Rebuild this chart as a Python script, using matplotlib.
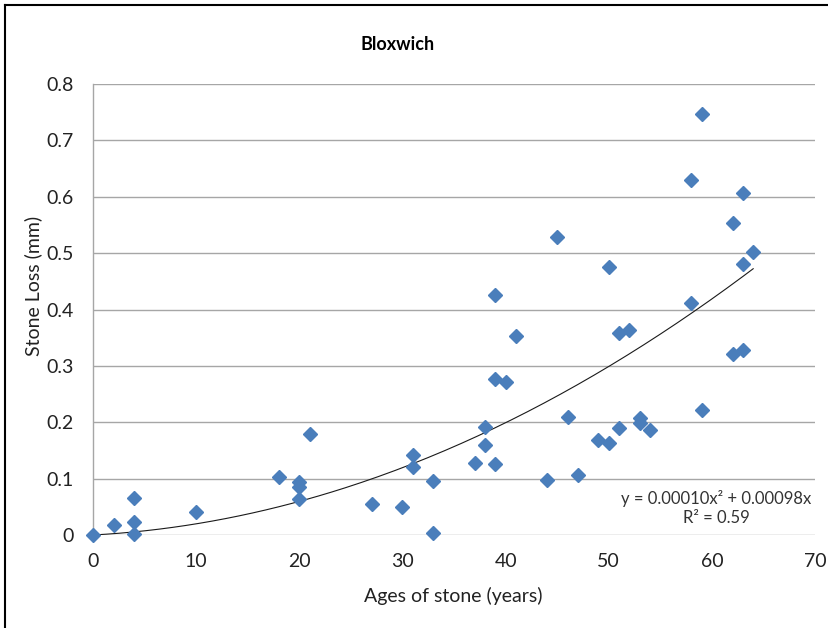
# Bloxwich stone loss vs. age, with a quadratic trend line
import numpy as np
import matplotlib.pyplot as plt
from matplotlib.lines import Line2D

plt.rcParams['font.family'] = ['Lato', 'DejaVu Sans']

# age of stone (years)
ages = [0, 2, 4, 4, 4, 10, 18, 20, 20, 20, 21, 27, 30, 31, 31, 33, 33,
        37, 38, 38, 39, 39, 39, 40, 41, 44, 45, 46, 47, 49, 50, 50, 51, 51,
        52, 53, 53, 54, 58, 58, 59, 59, 62, 62, 63, 63, 63, 64]
# stone loss (mm)
loss = [0.0, 0.018, 0.066, 0.023, 0.002, 0.041, 0.103, 0.094, 0.085, 0.064,
        0.180, 0.055, 0.050, 0.142, 0.121, 0.096, 0.003,
        0.128, 0.191, 0.160, 0.426, 0.276, 0.126, 0.271, 0.353, 0.098, 0.528,
        0.209, 0.107, 0.168, 0.163, 0.476, 0.190, 0.358,
        0.364, 0.208, 0.199, 0.186, 0.630, 0.411, 0.747, 0.221, 0.553, 0.321,
        0.607, 0.481, 0.328, 0.502]

# trend line coefficients: y = a*x^2 + b*x
coef_a = 0.00010
coef_b = 0.00098
r_squared = 0.59

x_ticks = [0, 10, 20, 30, 40, 50, 60, 70]
y_ticks = [0, 0.1, 0.2, 0.3, 0.4, 0.5, 0.6, 0.7, 0.8]
y_labels = ['0', '0.1', '0.2', '0.3', '0.4', '0.5', '0.6', '0.7', '0.8']

fig = plt.figure(figsize=(8.29, 6.28), dpi=100)
ax = fig.add_axes([0.1122, 0.1481, 0.871, 0.7181])

grid_col = '#A6A6A6'
ax.set_xlim(0, 70)
ax.set_ylim(0, 0.8)
ax.set_xticks(x_ticks)
ax.set_xticklabels([str(t) for t in x_ticks])
ax.set_yticks(y_ticks)
ax.set_yticklabels(y_labels)
ax.tick_params(length=0, labelsize=14, colors='black')
ax.tick_params(axis='x', pad=13)
ax.tick_params(axis='y', pad=14)
for t in ax.get_xticklabels() + ax.get_yticklabels():
    t.set_color('#222222')

ax.yaxis.grid(True, color=grid_col, linewidth=1)
ax.set_axisbelow(True)
for side in ['top', 'right', 'bottom']:
    ax.spines[side].set_visible(False)
ax.spines['left'].set_color(grid_col)
ax.spines['left'].set_linewidth(1)

# trend line over the data range
xs = np.linspace(min(ages), max(ages), 200)
ax.plot(xs, coef_a * xs**2 + coef_b * xs, color='#1a1a1a', linewidth=0.8, zorder=3)

ax.plot(ages, loss, linestyle='none', marker='D', markersize=7,
        color='#4A7EBB', markeredgecolor='#4A7EBB', zorder=4, clip_on=False)

ax.text(60.4, 0.048, 'y = %.5fx² + %.5fx\nR² = %.2f' % (coef_a, coef_b, r_squared),
        ha='center', va='center', fontsize=12, color='#333333', linespacing=1.2)

ax.set_xlabel('Ages of stone (years)', fontsize=14, color='#222222', va='center')
ax.xaxis.set_label_coords(0.4986, -0.135)
ax.set_ylabel('Stone Loss (mm)', fontsize=14, color='#222222', va='center')
ax.yaxis.set_label_coords(-0.083, 0.552)

fig.text(398 / 829, 1 - 45 / 628, 'Bloxwich', ha='center', va='center',
         fontsize=13, fontweight='bold')

# outer chart frame (top and left edges)
fig.add_artist(Line2D([5 / 829, 1.0], [1 - 5 / 628, 1 - 5 / 628],
                      transform=fig.transFigure, color='black', linewidth=1.5))
fig.add_artist(Line2D([5 / 829, 5 / 829], [0.0, 1 - 5 / 628],
                      transform=fig.transFigure, color='black', linewidth=1.5))

fig.savefig('out.png', dpi=100)
